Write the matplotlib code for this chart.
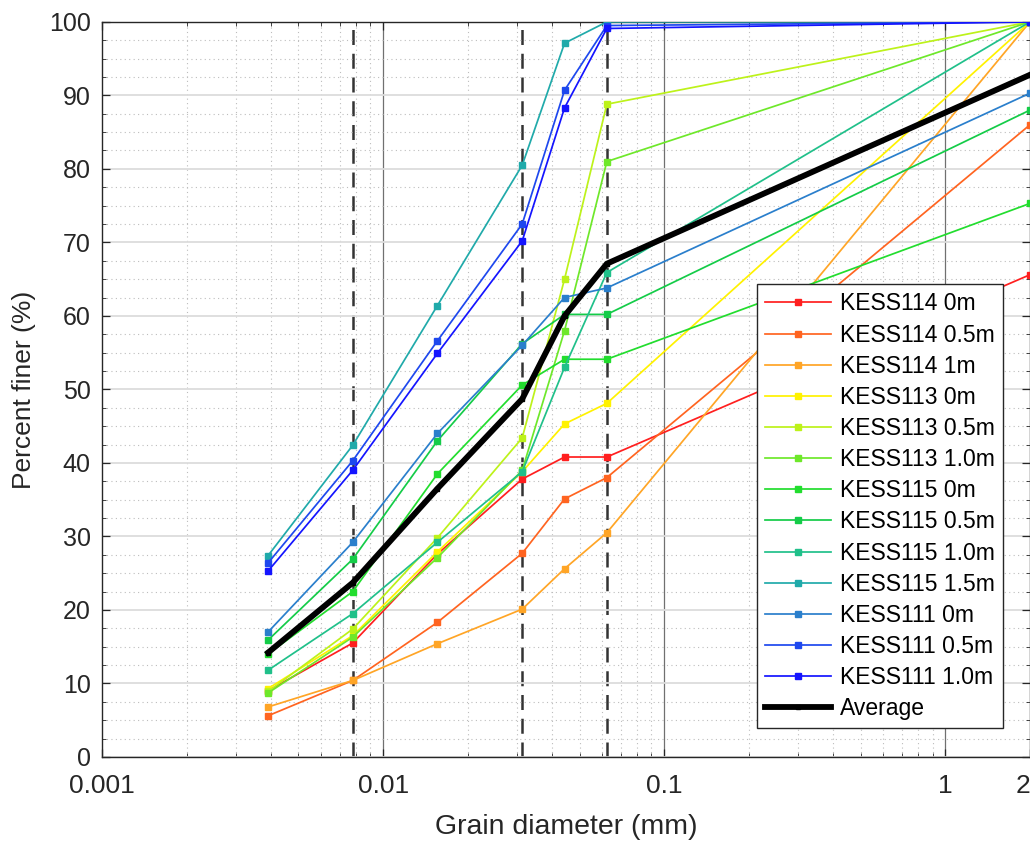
import numpy as np
import matplotlib
matplotlib.use("Agg")
import matplotlib.pyplot as plt
from matplotlib.ticker import FixedLocator, NullFormatter, LogLocator, MultipleLocator

plt.rcParams['font.family'] = ['Liberation Sans', 'DejaVu Sans']

# grain sizes (mm), phi 8, 7, 6, 5, 4.5, 4 and the 2 mm sieve
diam = [0.0039, 0.0078, 0.0156, 0.03125, 0.0442, 0.0625, 2.0]

labels = ["KESS114 0m", "KESS114 0.5m", "KESS114 1m",
          "KESS113 0m", "KESS113 0.5m", "KESS113 1.0m",
          "KESS115 0m", "KESS115 0.5m", "KESS115 1.0m", "KESS115 1.5m",
          "KESS111 0m", "KESS111 0.5m", "KESS111 1.0m"]

kess114_0m = [9.0, 15.5, 27.6, 37.8, 40.8, 40.8, 65.6]
kess114_05m = [5.6, 10.4, 18.3, 27.7, 35.1, 38.0, 86.0]
kess114_1m = [6.8, 10.4, 15.4, 20.1, 25.6, 30.5, 100.0]
kess113_0m = [9.3, 16.5, 27.9, 38.8, 45.3, 48.1, 100.0]
kess113_05m = [8.9, 17.4, 29.8, 43.4, 65.0, 88.8, 100.0]
kess113_1m = [8.7, 16.3, 27.1, 39.0, 58.0, 81.0, 100.0]
kess115_0m = [14.0, 22.5, 38.5, 50.6, 54.1, 54.1, 75.3]
kess115_05m = [15.9, 26.9, 43.0, 56.2, 60.2, 60.2, 88.0]
kess115_1m = [11.8, 19.5, 29.2, 38.8, 53.0, 65.9, 100.0]
kess115_15m = [27.4, 42.4, 61.4, 80.5, 97.1, 100.0, 100.0]
kess111_0m = [17.0, 29.2, 44.0, 56.0, 62.5, 63.8, 90.3]
kess111_05m = [26.4, 40.3, 56.6, 72.5, 90.7, 99.5, 100.0]
kess111_1m = [25.3, 39.0, 54.9, 70.2, 88.3, 99.1, 100.0]
average = [14.2, 23.7, 36.5, 48.7, 60.0, 67.1, 92.8]

phi_lines = [0.0078125, 0.03125, 0.0625]

colors = ["#ff1f1f", "#ff6420", "#ffa526", "#fff200", "#bdf21a", "#6ee82a",
          "#22dd2e", "#14cc48", "#20c08a", "#20aaaa", "#2a7fcc", "#1e48ee",
          "#1414ff"]

series = [kess114_0m, kess114_05m, kess114_1m, kess113_0m, kess113_05m,
          kess113_1m, kess115_0m, kess115_05m, kess115_1m, kess115_15m,
          kess111_0m, kess111_05m, kess111_1m]

fig = plt.figure(figsize=(10.30, 8.41), dpi=100)
ax = fig.add_axes([0.099, 0.100, 0.901, 0.874])

ax.set_xscale('log')
ax.set_xlim(0.001, 2)
ax.set_ylim(0, 100)

# grid, matlab style
ax.yaxis.set_major_locator(MultipleLocator(10))
ax.yaxis.set_minor_locator(MultipleLocator(2.5))
ax.xaxis.set_major_locator(FixedLocator([0.001, 0.01, 0.1, 1, 2]))
ax.xaxis.set_minor_locator(LogLocator(base=10, subs=np.arange(2, 10)))
ax.xaxis.set_minor_formatter(NullFormatter())
ax.set_xticklabels(["0.001", "0.01", "0.1", "1", "2"])

ax.grid(which='major', axis='y', color='#dcdcdc', lw=1.3, zorder=0)
ax.grid(which='minor', axis='both', color='#bdbdbd', lw=0.8, ls=(0, (1, 3)), zorder=0)
for xv in [0.01, 0.1, 1]:
    ax.axvline(xv, color='#707070', lw=0.9, zorder=0.5)

for xv in phi_lines:
    ax.axvline(xv, color='#333333', lw=1.8, ls=(0, (6, 3.5)), zorder=1)

for lab, col, vals in zip(labels, colors, series):
    ax.plot(diam, vals, color=col, lw=1.25, marker='s', ms=3.8, mec=col,
            label=lab, zorder=3)
ax.plot(diam, average, color='black', lw=4.2, marker='s', ms=3, label='Average',
        zorder=4)

ax.tick_params(which='both', direction='in', top=True, right=True,
               colors='#262626')
ax.tick_params(axis='x', which='major', labelsize=19, pad=12)
ax.tick_params(axis='y', which='major', labelsize=18, pad=8)
ax.tick_params(which='major', length=6, width=0.9)
ax.tick_params(which='minor', length=3, width=0.6)
ax.get_xticklabels()[-1].set_horizontalalignment('right')
for sp in ax.spines.values():
    sp.set_color('#262626')
    sp.set_linewidth(1.0)

ax.set_xlabel("Grain diameter (mm)", fontsize=20.5, color='#262626', labelpad=12)
ax.set_ylabel("Percent finer (%)", fontsize=19, color='#262626', labelpad=9)

leg = ax.legend(loc='lower right', bbox_to_anchor=(0.971, 0.039),
                borderaxespad=0, fontsize=16.5, frameon=True, fancybox=False,
                labelspacing=0.355, handlelength=2.9, handletextpad=0.4,
                borderpad=0.35)
leg.get_frame().set_edgecolor('#262626')
leg.get_frame().set_linewidth(1.0)
leg.get_frame().set_alpha(1)

fig.savefig("out.png", dpi=100)
